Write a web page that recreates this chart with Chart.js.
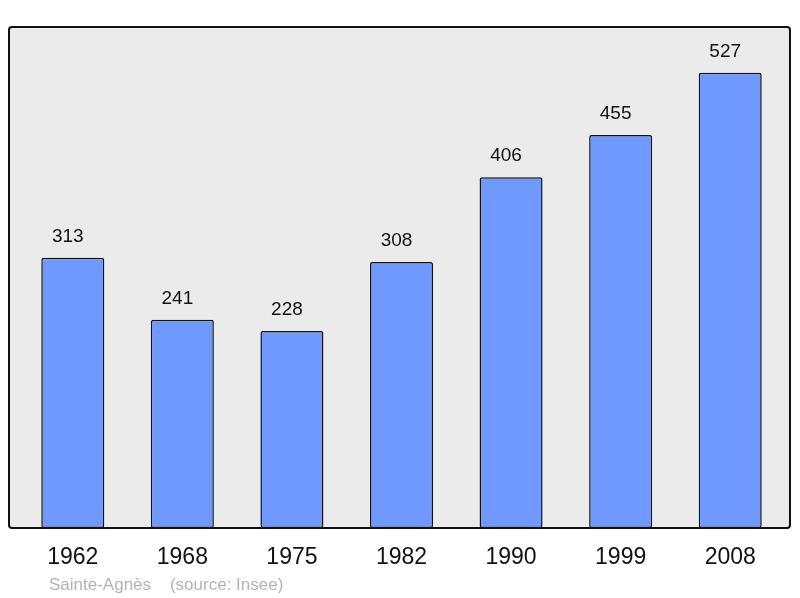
<!DOCTYPE html>
<html>
<head>
<meta charset="utf-8">
<script src="https://cdn.jsdelivr.net/npm/chart.js@4/dist/chart.umd.min.js"></script>
<style>
  html, body { margin: 0; padding: 0; background: #ffffff; }
  #wrap { width: 800px; height: 598px; }
</style>
</head>
<body>
<div id="wrap"><canvas id="c" width="800" height="598"></canvas></div>
<script>
const years = ["1962", "1968", "1975", "1982", "1990", "1999", "2008"];
const population = [313, 241, 228, 308, 406, 455, 527];
const yMax = 580;
const sourceText = "Sainte-Agnès    (source: Insee)";

const framePlugin = {
  id: 'frame',
  beforeDatasetsDraw(chart) {
    const { ctx, chartArea: a } = chart;
    ctx.save();
    ctx.fillStyle = '#ebebeb';
    roundRect(ctx, a.left - 9, a.top, (a.right + 5) - (a.left - 9), a.bottom - a.top, 3);
    ctx.fill();
    ctx.restore();
  },
  afterDatasetsDraw(chart) {
    const { ctx, chartArea: a } = chart;
    ctx.save();
    ctx.strokeStyle = '#111111';
    ctx.lineWidth = 2;
    roundRect(ctx, a.left - 9, a.top, (a.right + 5) - (a.left - 9), a.bottom - a.top, 3);
    ctx.stroke();
    // value labels
    const meta = chart.getDatasetMeta(0);
    ctx.fillStyle = '#111111';
    ctx.font = '19px "Liberation Sans", Arial, sans-serif';
    ctx.textAlign = 'center';
    ctx.textBaseline = 'alphabetic';
    meta.data.forEach((bar, i) => {
      ctx.fillText(String(chart.data.datasets[0].data[i]), bar.x - 5, bar.y - 16);
    });
    // source text
    ctx.fillStyle = '#b3b3b3';
    ctx.font = '17px "Liberation Sans", Arial, sans-serif';
    ctx.textAlign = 'left';
    ctx.fillText(sourceText, 49, 590);
    ctx.restore();
  }
};

function roundRect(ctx, x, y, w, h, r) {
  ctx.beginPath();
  ctx.moveTo(x + r, y);
  ctx.lineTo(x + w - r, y);
  ctx.arcTo(x + w, y, x + w, y + r, r);
  ctx.lineTo(x + w, y + h - r);
  ctx.arcTo(x + w, y + h, x + w - r, y + h, r);
  ctx.lineTo(x + r, y + h);
  ctx.arcTo(x, y + h, x, y + h - r, r);
  ctx.lineTo(x, y + r);
  ctx.arcTo(x, y, x + r, y, r);
  ctx.closePath();
}

new Chart(document.getElementById('c'), {
  type: 'bar',
  data: {
    labels: years,
    datasets: [{
      data: population,
      backgroundColor: '#7099ff',
      borderColor: '#111111',
      borderWidth: 1.5,
      borderRadius: 2,
      borderSkipped: false,
      barPercentage: 0.575,
      categoryPercentage: 1.0
    }]
  },
  plugins: [framePlugin],
  options: {
    responsive: false,
    animation: false,
    devicePixelRatio: 1,
    layout: { padding: { left: 18, right: 15, top: 27, bottom: 0 } },
    plugins: { legend: { display: false }, tooltip: { enabled: false }, title: { display: false } },
    scales: {
      x: {
        grid: { display: false, drawTicks: false },
        border: { display: false },
        ticks: {
          color: '#111111',
          font: { family: '"Liberation Sans", Arial, sans-serif', size: 23 },
          padding: 16,
          maxRotation: 0
        },
        afterFit(scale) { scale.height = 70; }
      },
      y: {
        display: false,
        min: 0,
        max: yMax
      }
    }
  }
});
</script>
</body>
</html>
